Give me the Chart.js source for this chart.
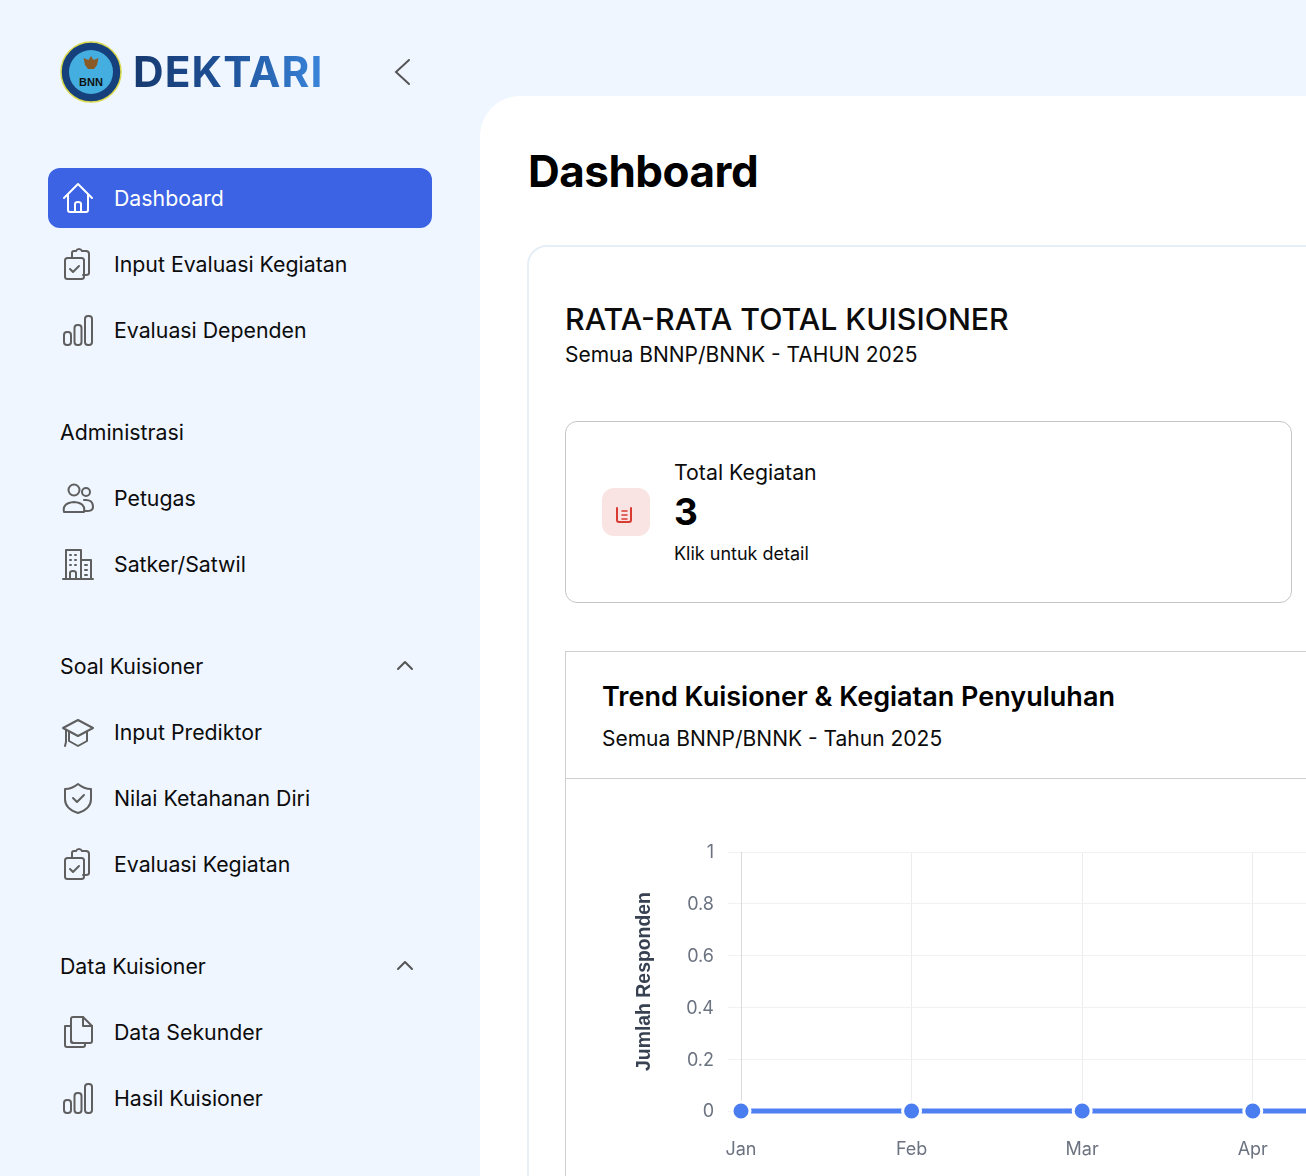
<!DOCTYPE html>
<html>
<head>
    <title>DEKTARI Dashboard</title>
    <script src="https://cdn.jsdelivr.net/npm/chart.js"></script>
    <style>
        html, body { margin: 0; padding: 0; width: 1306px; height: 1176px; overflow: hidden; }
        body { position: relative; background-color: #eff6ff; font-family: Inter, Arial, sans-serif; color: #0c0c0c; }
        .t { position: absolute; white-space: nowrap; line-height: 30px; height: 30px; }
        .nav { font-size: 21.3px; font-weight: 400; }
        svg.icon { position: absolute; width: 34px; height: 34px; fill: none; stroke: #5f5f5f; stroke-width: 2; stroke-linecap: round; stroke-linejoin: round; }
        .logo-text { position: absolute; left: 133px; top: 47px; font-size: 42.4px; line-height: 50px; font-weight: 700; letter-spacing: 1.1px; background: linear-gradient(90deg, #17396f, #1e5299 50%, #3a86dc); -webkit-background-clip: text; background-clip: text; color: transparent; }
        .active { position: absolute; left: 48px; top: 168px; width: 384px; height: 60px; background-color: #3b63e4; border-radius: 12px; }
        .main { position: absolute; left: 480px; top: 96px; width: 900px; height: 1200px; background-color: #fff; border-top-left-radius: 40px; }
        .card { position: absolute; left: 527px; top: 245px; width: 900px; height: 1100px; border: 2px solid #e6eef6; border-radius: 20px; background-color: #fff; }
        .stat { position: absolute; left: 565px; top: 421px; width: 725px; height: 180px; border: 1px solid #c6c6c6; border-radius: 12px; background-color: #fff; }
        .stat-icon { position: absolute; left: 602px; top: 488px; width: 48px; height: 48px; border-radius: 12px; background-color: #f9e3e3; }
        .chart-card { position: absolute; left: 565px; top: 651px; width: 900px; height: 700px; border-left: 1px solid #cfcfcf; border-top: 1px solid #cfcfcf; background-color: #fff; }
        .chart-head { position: absolute; left: 566px; top: 778px; width: 740px; height: 1px; background-color: #cfcfcf; }
        canvas { position: absolute; left: 620px; top: 830px; }
    </style>
</head>
<body>
    <div class="main"></div>
    <div class="card"></div>
    <div class="stat"></div>
    <div class="chart-card"></div>
    <div class="chart-head"></div>

    <svg style="position:absolute;left:60px;top:41px;width:62px;height:62px" viewBox="0 0 62 62">
        <circle cx="31" cy="31" r="30" fill="#16407c" stroke="#d8d84a" stroke-width="1.5"/>
        <circle cx="31" cy="31" r="22" fill="#45aee0"/>
        <path d="M31 15l2.500 4 5-2-1.500 7-3 4h-6l-3-4-1.500-7 5 2z" fill="#8a5a26"/>
        <text x="31" y="45" text-anchor="middle" font-family="Arial" font-weight="700" font-size="11" fill="#111">BNN</text>
    </svg>
    <div class="logo-text">DEKTARI</div>
    <svg style="position:absolute;left:390px;top:56px;width:24px;height:32px;fill:none;stroke:#555;stroke-width:2;stroke-linecap:round" viewBox="0 0 24 32">
        <path d="M19 4L6 16l13 12"/>
    </svg>

    <div class="active"></div>

    <div class="t" style="left:565px;top:301px;font-size:30.3px;font-weight:500;line-height:36px;height:36px">RATA-RATA TOTAL KUISIONER</div>
    <div class="t" style="left:565px;top:340px;font-size:21px">Semua BNNP/BNNK - TAHUN 2025</div>
    <div class="t" style="left:528px;top:146px;font-size:44px;font-weight:700;line-height:50px;height:50px;color:#000;letter-spacing:-0.5px">Dashboard</div>

    <div class="stat-icon"></div>
    <svg style="position:absolute;left:614px;top:505px;width:20px;height:20px;fill:none;stroke:#d93a32;stroke-width:2;stroke-linecap:round" viewBox="0 0 20 20">
        <path d="M3 3v12q0 2 2 2h10q2 0 2-2V3"/><path d="M8 6h5M8 10h5M8 14h5" stroke-width="1.6"/>
    </svg>
    <div class="t" style="left:674px;top:457px;font-size:21.3px">Total Kegiatan</div>
    <div class="t" style="left:674px;top:492px;font-size:37px;font-weight:700;line-height:40px;height:40px;color:#000">3</div>
    <div class="t" style="left:674px;top:539px;font-size:18px">Klik untuk detail</div>

    <div class="t" style="left:602px;top:680px;font-size:27px;font-weight:600;line-height:34px;height:34px;color:#000">Trend Kuisioner &amp; Kegiatan Penyuluhan</div>
    <div class="t" style="left:602px;top:724px;font-size:21px">Semua BNNP/BNNK - Tahun 2025</div>

    <canvas id="trendChart" width="2042" height="370"></canvas>

    <script>
        // sidebar
        const navLabels = ['Dashboard', 'Input Evaluasi Kegiatan', 'Evaluasi Dependen', 'Petugas', 'Satker/Satwil', 'Input Prediktor', 'Nilai Ketahanan Diri', 'Evaluasi Kegiatan', 'Data Sekunder', 'Hasil Kuisioner'];
        const navRows = [198, 264, 330, 498, 564, 732, 798, 864, 1032, 1098];
        const navIcons = ['home', 'clip', 'bars', 'users', 'city', 'grad', 'shield', 'clip', 'docs', 'bars'];
        const groupLabels = ['Administrasi', 'Soal Kuisioner', 'Data Kuisioner'];
        const groupRows = [432, 666, 966];
        const groupCarets = [false, true, true];

        // chart
        const months = ['Jan', 'Feb', 'Mar', 'Apr', 'Mei', 'Jun', 'Jul', 'Agu', 'Sep', 'Okt', 'Nov', 'Des'];
        const respondents = [0, 0, 0, 0, 0, 0, 0, 0, 0, 0, 0, 0];
        const yTickLabels = ['0', '0.2', '0.4', '0.6', '0.8', '1'];

        const iconPaths = {
            home: '<path d="M3 17L17 3l14 14"/><path d="M7 14v15q0 2 2 2h16q2 0 2-2V14"/><path d="M14 31v-8q0-2 3-2t3 2v8"/>',
            clip: '<rect x="4" y="11" width="19" height="21" rx="2.5"/><path d="M11 11V6q0-2 2-2h2q1-2 3-2t3 2h4q3 0 3 3v19q0 2-3 2h-3"/><path d="M9 22l3 3 6-6"/>',
            bars: '<rect x="3" y="19" width="7" height="13" rx="3"/><rect x="13.5" y="12" width="7" height="20" rx="3"/><rect x="24" y="3" width="7" height="29" rx="3"/>',
            users: '<circle cx="13" cy="9" r="5.5"/><circle cx="25" cy="11" r="4"/><path d="M3 31q-2-9 10-10 12 1 10 10z"/><path d="M23 19q9-1 9 7 0 4-6 4h-3"/>',
            city: '<path d="M2 32h30M5 32V3h15v29M20 13h10v19"/><path d="M9 8h1M14 8h1M9 13h1M14 13h1M9 18h1M14 18h1M24 18h2M24 23h2M24 28h2"/><path d="M9 32v-6q0-2 3-2t3 2v6"/>',
            grad: '<path d="M2 13L17 5l15 8-15 8z"/><path d="M8 17v9l9 5 9-5v-9"/><path d="M5 15v12l-1 4"/>',
            shield: '<path d="M17 3q6 5 13 5v10q0 10-13 14Q4 28 4 18V8q7 0 13-5z"/><path d="M12 17l4 4 7-7"/>',
            docs: '<path d="M4 11h6v14q0 3 3 3h11v2q0 2-2 2H6q-2 0-2-2z"/><path d="M10 4q0-2 2-2h10l9 9v15q0 2-2 2H12q-2 0-2-2z"/><path d="M22 2v9h9"/>'
        };

        function addText(label, left, centerY, cls, color) {
            const el = document.createElement('div');
            el.className = 't ' + cls;
            el.textContent = label;
            el.style.left = left + 'px';
            el.style.top = (centerY - 15) + 'px';
            if (color) el.style.color = color;
            document.body.appendChild(el);
        }

        function addIcon(name, centerY, color) {
            const box = document.createElement('div');
            box.innerHTML = `<svg class="icon" viewBox="0 0 34 34" style="left:61px;top:${centerY - 17}px;${color ? 'stroke:' + color : ''}">${iconPaths[name]}</svg>`;
            document.body.appendChild(box.firstChild);
        }

        navLabels.forEach((label, i) => {
            addText(label, 114, navRows[i], 'nav', i === 0 ? '#fff' : null);
            addIcon(navIcons[i], navRows[i], i === 0 ? '#fff' : null);
        });

        groupLabels.forEach((label, i) => {
            addText(label, 60, groupRows[i], 'nav');
            if (groupCarets[i]) {
                const box = document.createElement('div');
                box.innerHTML = `<svg style="position:absolute;left:395px;top:${groupRows[i] - 8}px;width:20px;height:14px;fill:none;stroke:#555;stroke-width:2;stroke-linecap:round;stroke-linejoin:round" viewBox="0 0 20 14"><path d="M3 11l7-7 7 7"/></svg>`;
                document.body.appendChild(box.firstChild);
            }
        });

        const ctx = document.getElementById('trendChart').getContext('2d');
        new Chart(ctx, {
            type: 'line',
            data: {
                labels: months,
                datasets: [{
                    label: 'Jumlah Responden',
                    data: respondents,
                    borderColor: '#4f80f1',
                    backgroundColor: '#4a7df0',
                    borderWidth: 5,
                    pointRadius: 9,
                    pointBorderWidth: 3,
                    pointBorderColor: '#fff',
                    pointBackgroundColor: '#4a7df0',
                    clip: false
                }]
            },
            options: {
                responsive: false,
                animation: false,
                layout: { padding: { top: 0, right: 22 } },
                plugins: { legend: { display: false }, tooltip: { enabled: false } },
                scales: {
                    x: {
                        afterFit: scale => { scale.height = 89; },
                        grid: { color: '#ebecef', tickLength: 0 },
                        border: { color: '#d9dbdf' },
                        ticks: { color: '#6b7280', padding: 28, maxRotation: 0, font: { family: 'Inter', size: 18 } }
                    },
                    y: {
                        min: 0,
                        max: 1,
                        afterFit: scale => { scale.width = 121; scale.paddingTop = 22; scale.paddingBottom = 0; },
                        grid: { color: '#f1f1f2', tickLength: 13 },
                        border: { color: '#d9dbdf' },
                        title: {
                            display: true,
                            text: 'Jumlah Responden',
                            color: '#374151',
                            font: { family: 'Liberation Sans', size: 19.4, weight: 'bold' },
                            padding: { top: 13, bottom: 0 }
                        },
                        ticks: {
                            stepSize: 0.2,
                            padding: 14,
                            labelOffset: 1,
                            color: '#6b7280',
                            font: { family: 'Inter', size: 18 },
                            callback: (value, i) => yTickLabels[i]
                        }
                    }
                }
            }
        });
    </script>
</body>
</html>
